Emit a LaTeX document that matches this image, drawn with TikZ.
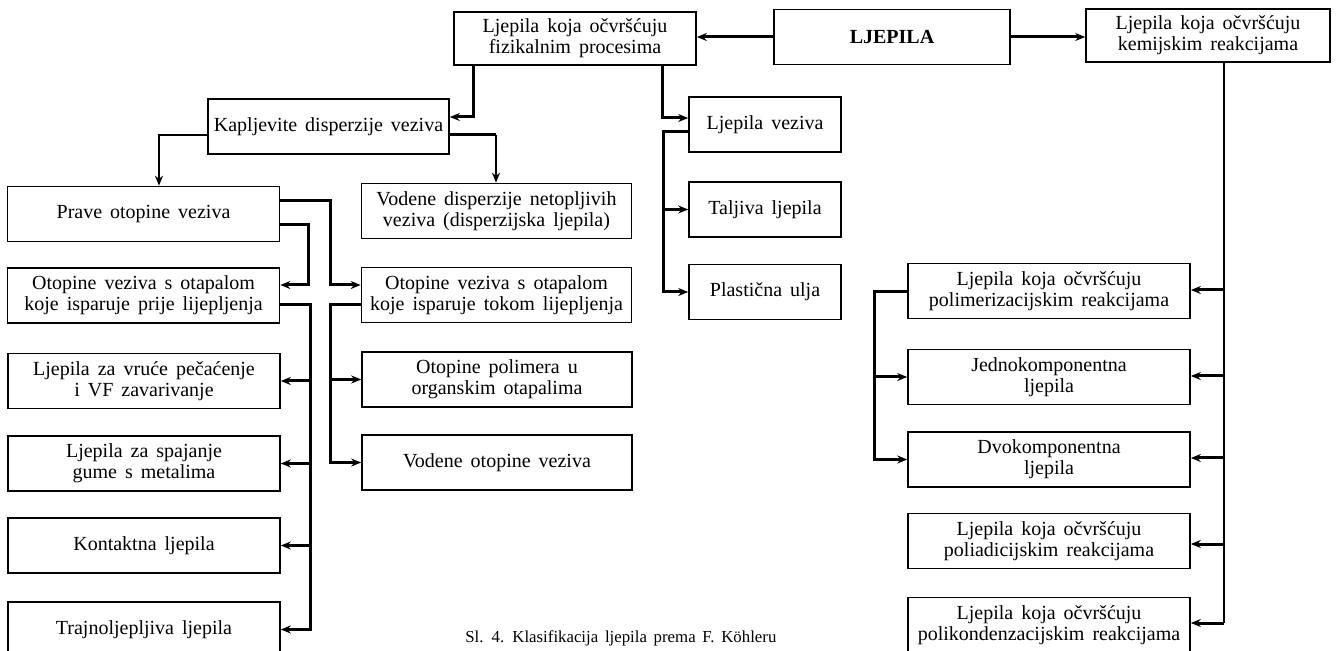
\documentclass[tikz,border=0pt]{standalone}
\usepackage{fontspec}
\setmainfont{Liberation Serif}[WordSpace=1.6]
\usetikzlibrary{arrows.meta}

\begin{document}
\begin{tikzpicture}[x=0.5pt,y=-0.5pt,
    box/.style={draw,line width=0.8pt,minimum height=27.5pt,align=center,
      inner sep=1pt,font=\fontsize{10}{10.5}\selectfont},
    lbox/.style={box,minimum width=136pt},
    mbox/.style={box,minimum width=135pt},
    vbox/.style={box,minimum width=76pt},
    rbox/.style={box,minimum width=141pt},
    arr/.style={line width=1.5pt,-{Stealth[length=5pt,width=4pt]}},
    thinarr/.style={line width=1pt,-{Stealth[length=5pt,width=4pt]}},
    link/.style={line width=1.5pt}]
  \useasboundingbox (0,0) rectangle (1337,651);
  % top row
  \node[box,minimum width=118pt,font=\fontsize{10}{10.5}\selectfont\bfseries] (ljep)
    at (892,37) {LJEPILA};
  \node[box,minimum width=121pt,minimum height=26.5pt] (fiz) at (575,38.5)
    {Ljepila koja očvršćuju\\fizikalnim procesima};
  \node[box,minimum width=122pt,minimum height=26.5pt] (kem) at (1208,35.5)
    {Ljepila koja očvršćuju\\kemijskim reakcijama};
  % physical branch
  \node[box,minimum width=120.5pt] (kap) at (328.5,126.5) {Kapljevite disperzije veziva};
  \node[vbox] (vez) at (765,124.5) {Ljepila veziva};
  \node[vbox] (talj) at (765,209.5) {Taljiva ljepila};
  \node[vbox] (plast) at (765,292) {Plastična ulja};
  \node[lbox] (prave) at (143.5,214) {Prave otopine veziva};
  \node[mbox] (vdisp) at (496.5,211)
    {Vodene disperzije netopljivih\\veziva (disperzijska ljepila)};
  \node[lbox] (prije) at (143.5,295.5)
    {Otopine veziva s otapalom\\koje isparuje prije lijepljenja};
  \node[mbox] (tokom) at (496.5,295)
    {Otopine veziva s otapalom\\koje isparuje tokom lijepljenja};
  \node[lbox] (vruce) at (144,381) {Ljepila za vruće pečaćenje\\i VF zavarivanje};
  \node[lbox] (spaj) at (144,463.5) {Ljepila za spajanje\\gume s metalima};
  \node[lbox] (kont) at (144,545.5) {Kontaktna ljepila};
  \node[lbox] (trajno) at (144,629.5) {Trajnoljepljiva ljepila};
  \node[mbox] (polim) at (497,379.5) {Otopine polimera u\\organskim otapalima};
  \node[mbox] (vodot) at (497,462.5) {Vodene otopine veziva};
  % chemical branch
  \node[rbox] (polimer) at (1049,291)
    {Ljepila koja očvršćuju\\polimerizacijskim reakcijama};
  \node[rbox] (jedno) at (1049,377) {Jednokomponentna\\ljepila};
  \node[rbox] (dvo) at (1049,459.5) {Dvokomponentna\\ljepila};
  \node[rbox] (poliad) at (1049,541)
    {Ljepila koja očvršćuju\\poliadicijskim reakcijama};
  \node[rbox] (polik) at (1049,625)
    {Ljepila koja očvršćuju\\polikondenzacijskim reakcijama};
  \node[anchor=base west,inner sep=0pt,font=\fontsize{8.4}{9}\selectfont] (cap)
    at (465,642) {Sl. 4. Klasifikacija ljepila prema F. Köhleru};

  % connectors
  \draw[arr] (ljep.west) -- (ljep.west -| fiz.east);
  \draw[arr] (ljep.east) -- (ljep.east -| kem.west);
  \draw[arr] (473,0 |- fiz.south) |- (kap.east |- 0,117);
  \draw[arr] (662,0 |- fiz.south) |- (vez.west |- 0,118);
  \draw[thinarr] (kap.west |- 0,135) -| (159,0 |- prave.north);
  \draw[link] (kap.east |- 0,135) -- (496,135);
  \draw[thinarr] (496,135) -- (496,0 |- vdisp.north);
  \draw[arr] (prave.east |- 0,201) -| (330,285) -- (tokom.west |- 0,285);
  \draw[arr] (prave.east |- 0,225) -| (308,285) -- (prije.east |- 0,285);
  \draw[arr] (prije.east |- 0,305) -| (310,0 |- trajno.east) -- (trajno.east);
  \foreach \n in {vruce,spaj,kont}
    \draw[arr] (310,0 |- \n.east) -- (\n.east);
  \draw[arr] (tokom.west |- 0,305) -| (330,0 |- vodot.west) -- (vodot.west);
  \draw[arr] (330,0 |- polim.west) -- (polim.west);
  \draw[arr] (vez.west |- 0,132) -| (663,0 |- plast.west) -- (plast.west);
  \draw[arr] (663,0 |- talj.west) -- (talj.west);
  \draw[line width=1.1pt] (1224,0 |- kem.south) -- (1224,623);
  \foreach \n/\yy in {polimer/290,jedno/376,dvo/458,poliad/544,polik/623}
    \draw[arr] (1224,\yy) -- (\n.east |- 0,\yy);
  \draw[arr] (polimer.west |- 0,292) -| (874,0 |- dvo.west) -- (dvo.west);
  \draw[arr] (874,0 |- jedno.west) -- (jedno.west);
\end{tikzpicture}
\end{document}
